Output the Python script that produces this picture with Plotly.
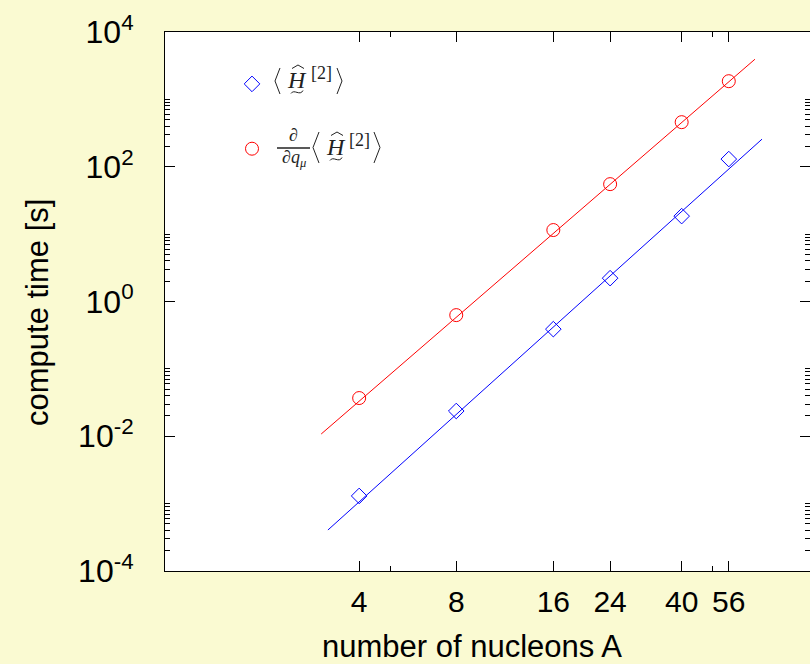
import plotly.graph_objects as go

# ---------------- data ----------------
nucleons = [4, 8, 16, 24, 40, 56]
time_H = [1.3e-3, 0.0237, 0.389, 2.22, 18.5, 130]          # <H^[2]>
time_dH = [0.0369, 0.628, 11.5, 55.2, 459, 1862]           # d/dq <H^[2]>

fit_A_H = [3.2, 71]
fit_t_H = [4.06e-4, 257]
fit_A_dH = [3.05, 67.5]
fit_t_dH = [0.0108, 3945]

x_ticks = [4, 8, 16, 24, 40, 56]
x_ticklabels = ["4", "8", "16", "24", "40", "56"]
x_minor = [5, 50]
y_ticks = [1e-4, 1e-2, 1, 1e2, 1e4]
y_ticklabels = ["10<sup>-4</sup>", "10<sup>-2</sup>", "10<sup>0</sup>",
                "10<sup>2</sup>", "10<sup>4</sup>"]
y_minor = [k * b for b in (1e-4, 1e-2, 1e0, 1e2) for k in range(2, 11)]

BLUE = "#0000FF"
RED = "#FF0000"
SANS = "Liberation Sans, Arial, sans-serif"
SERIF = "Liberation Serif, Times New Roman, serif"
TXT = "#222222"

W, H = 810, 664
L, R, T, B = 165, 0, 32, 93
PW, PH = W - L - R, H - T - B


def px(x):
    return (x - L) / PW


def py(y):
    return (H - B - y) / PH


fig = go.Figure()

fig.add_trace(go.Scatter(x=fit_A_H, y=fit_t_H, mode="lines",
                         line=dict(color=BLUE, width=1), showlegend=False,
                         hoverinfo="skip"))
fig.add_trace(go.Scatter(x=fit_A_dH, y=fit_t_dH, mode="lines",
                         line=dict(color=RED, width=1), showlegend=False,
                         hoverinfo="skip"))
fig.add_trace(go.Scatter(x=nucleons, y=time_H, mode="markers", name=" ",
                         legendgroup="a",
                         marker=dict(symbol="diamond-open", size=12, color=BLUE,
                                     line=dict(width=1, color=BLUE))))
fig.add_trace(go.Scatter(x=nucleons, y=time_dH, mode="markers", name=" ",
                         legendgroup="b",
                         marker=dict(symbol="circle-open", size=13, color=RED,
                                     line=dict(width=1, color=RED))))

axis_common = dict(showline=True, linecolor="black", linewidth=1, mirror="ticks",
                   ticks="inside", tickcolor="black", tickwidth=1, ticklen=10,
                   showgrid=False, zeroline=False)

fig.update_xaxes(type="log", range=[0, 2], tickmode="array", tickvals=x_ticks,
                 ticktext=x_ticklabels, ticklabelstandoff=4,
                 tickfont=dict(family=SANS, size=30, color="black"),
                 minor=dict(tickmode="array", tickvals=x_minor, ticks="inside",
                            ticklen=5, tickcolor="black", tickwidth=1),
                 **axis_common)
fig.update_yaxes(type="log", range=[-4, 4], tickmode="array", tickvals=y_ticks,
                 ticktext=y_ticklabels, ticklabelstandoff=24,
                 tickfont=dict(family=SANS, size=32, color="black"),
                 minor=dict(tickmode="array", tickvals=y_minor, ticks="inside",
                            ticklen=5, tickcolor="black", tickwidth=1),
                 **axis_common)

annotations = [
    dict(text="number of nucleons A", x=px(472), y=py(646), xref="paper",
         yref="paper", showarrow=False, xanchor="center", yanchor="middle",
         font=dict(family=SANS, size=31, color="black")),
    dict(text="compute time [s]", x=px(37), y=py(313), xref="paper",
         yref="paper", showarrow=False, xanchor="center", yanchor="middle",
         textangle=-90, font=dict(family=SANS, size=31, color="black")),
]


def note(text, x, y, size, family=SERIF):
    annotations.append(dict(text=text, x=px(x), y=py(y), xref="paper",
                            yref="paper", showarrow=False, xanchor="center",
                            yanchor="middle",
                            font=dict(family=family, size=size, color=TXT)))


shapes = []


def path(points_cmds, width=1):
    parts = []
    for cmd, pts in points_cmds:
        coords = " ".join(f"{px(x):.5f},{py(y):.5f}" for x, y in pts)
        parts.append(f"{cmd} {coords}")
    shapes.append(dict(type="path", xref="paper", yref="paper",
                       path=" ".join(parts), line=dict(color=TXT, width=width)))


def bracket(xo, xt, ytop, ybot):
    ym = (ytop + ybot) / 2
    path([("M", [(xo, ytop)]), ("L", [(xt, ym)]), ("L", [(xo, ybot)])])


def hat(xc, y):
    path([("M", [(xc - 6, y + 3.5)]), ("L", [(xc, y)]), ("L", [(xc + 6, y + 3.5)])])


def tilde(xc, y):
    path([("M", [(xc - 6, y + 1.5)]),
          ("C", [(xc - 3, y - 3.5), (xc + 3, y + 4.5), (xc + 6, y - 1.5)])], width=1)


# legend entry 1:  < H^[2] >
note("<i>H</i>", 297, 80, 24)
hat(298, 65)
tilde(297, 92)
note("[2]", 321, 73, 18)
bracket(280, 275, 68, 94)
bracket(337, 342, 68, 94)

# legend entry 2:  d/dq_mu < H^[2] >
note("∂", 293, 135, 18)
note("∂<i>q<sub>μ</sub></i>", 294, 158, 18)
shapes.append(dict(type="line", xref="paper", yref="paper",
                   x0=px(277), x1=px(310), y0=py(148), y1=py(148),
                   line=dict(color=TXT, width=1.5)))
note("<i>H</i>", 336, 147, 24)
hat(337, 132)
tilde(336, 159)
note("[2]", 359, 140, 18)
bracket(319, 313, 132, 163)
bracket(374, 380, 132, 163)

fig.update_layout(
    width=W, height=H,
    margin=dict(l=L, r=R, t=T, b=B, pad=0),
    paper_bgcolor="#FAFAD2", plot_bgcolor="white",
    font=dict(family=SANS, color="black"),
    annotations=annotations, shapes=shapes,
    showlegend=True,
    legend=dict(x=px(232), y=py(67), xanchor="left", yanchor="top",
                bgcolor="rgba(0,0,0,0)", borderwidth=0,
                font=dict(size=16), traceorder="grouped",
                tracegroupgap=41, itemwidth=30),
)

fig.write_html("out.html")
